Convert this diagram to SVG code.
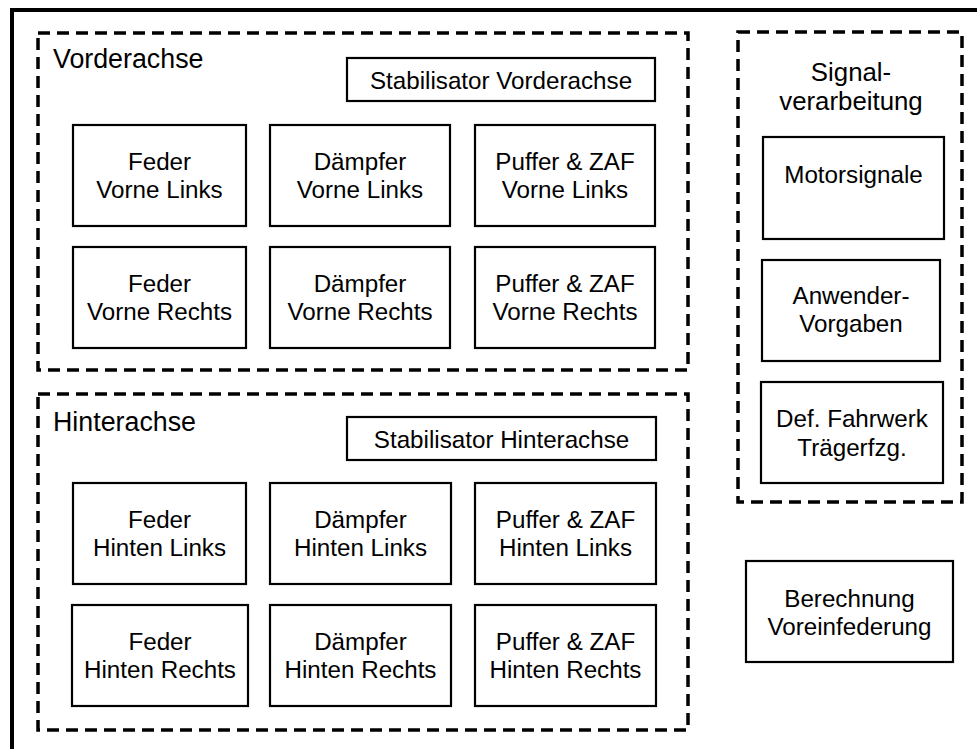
<svg xmlns="http://www.w3.org/2000/svg" width="977" height="749" viewBox="0 0 977 749">
<style>
.bg{fill:#fff}
.outer{fill:none;stroke:#000;stroke-width:4}
.grp{fill:none;stroke:#000;stroke-width:3.5;stroke-dasharray:12 7}
.box{fill:#fff;stroke:#000;stroke-width:2.2}
text{font-family:"Liberation Sans",Arial,sans-serif;fill:#000}
.t{font-size:24.2px;text-anchor:middle}
.h{font-size:26.8px}
.hc{font-size:25.8px;text-anchor:middle}
</style>
<rect class="bg" x="0" y="0" width="977" height="749"/>
<rect class="outer" x="12" y="10" width="1000" height="800"/>
<g id="vorderachse">
<rect class="grp" x="38" y="33" width="650" height="337"/>
<text class="h" x="53" y="68">Vorderachse</text>
</g>
<g id="hinterachse">
<rect class="grp" x="38" y="394" width="650" height="336"/>
<text class="h" x="53" y="431">Hinterachse</text>
</g>
<g id="signalverarbeitung">
<rect class="grp" x="738" y="32" width="224" height="470"/>
<text class="hc" x="851" y="81">Signal-</text>
<text class="hc" x="851" y="110">verarbeitung</text>
</g>
<g id="stab_vorne"><rect class="box" x="347" y="58" width="308" height="43"/><text class="t" x="501" y="88.5">Stabilisator Vorderachse</text></g>
<g id="feder_vl"><rect class="box" x="73" y="125" width="173" height="101"/><text class="t" x="159.5" y="170">Feder</text><text class="t" x="159.5" y="198">Vorne Links</text></g>
<g id="daempfer_vl"><rect class="box" x="270" y="125" width="180" height="101"/><text class="t" x="360" y="170">Dämpfer</text><text class="t" x="360" y="198">Vorne Links</text></g>
<g id="puffer_vl"><rect class="box" x="475" y="125" width="180" height="101"/><text class="t" x="565" y="170">Puffer &amp; ZAF</text><text class="t" x="565" y="198">Vorne Links</text></g>
<g id="feder_vr"><rect class="box" x="73" y="247" width="173" height="101"/><text class="t" x="159.5" y="292">Feder</text><text class="t" x="159.5" y="320">Vorne Rechts</text></g>
<g id="daempfer_vr"><rect class="box" x="270" y="247" width="180" height="101"/><text class="t" x="360" y="292">Dämpfer</text><text class="t" x="360" y="320">Vorne Rechts</text></g>
<g id="puffer_vr"><rect class="box" x="475" y="247" width="180" height="101"/><text class="t" x="565" y="292">Puffer &amp; ZAF</text><text class="t" x="565" y="320">Vorne Rechts</text></g>
<g id="stab_hinten"><rect class="box" x="347" y="417" width="309" height="43"/><text class="t" x="501.5" y="447.5">Stabilisator Hinterachse</text></g>
<g id="feder_hl"><rect class="box" x="73" y="483" width="173" height="101"/><text class="t" x="159.5" y="528">Feder</text><text class="t" x="159.5" y="556">Hinten Links</text></g>
<g id="daempfer_hl"><rect class="box" x="270" y="483" width="181" height="101"/><text class="t" x="360.5" y="528">Dämpfer</text><text class="t" x="360.5" y="556">Hinten Links</text></g>
<g id="puffer_hl"><rect class="box" x="475" y="483" width="181" height="101"/><text class="t" x="565.5" y="528">Puffer &amp; ZAF</text><text class="t" x="565.5" y="556">Hinten Links</text></g>
<g id="feder_hr"><rect class="box" x="72" y="605" width="176" height="101"/><text class="t" x="160" y="650">Feder</text><text class="t" x="160" y="678">Hinten Rechts</text></g>
<g id="daempfer_hr"><rect class="box" x="270" y="605" width="181" height="101"/><text class="t" x="360.5" y="650">Dämpfer</text><text class="t" x="360.5" y="678">Hinten Rechts</text></g>
<g id="puffer_hr"><rect class="box" x="475" y="605" width="181" height="101"/><text class="t" x="565.5" y="650">Puffer &amp; ZAF</text><text class="t" x="565.5" y="678">Hinten Rechts</text></g>
<g id="motorsignale"><rect class="box" x="763" y="137" width="181" height="102"/><text class="t" x="853.5" y="183">Motorsignale</text></g>
<g id="anwender"><rect class="box" x="762" y="260" width="178" height="101"/><text class="t" x="851" y="304">Anwender-</text><text class="t" x="851" y="332">Vorgaben</text></g>
<g id="def_fahrwerk"><rect class="box" x="761" y="382" width="182" height="101"/><text class="t" x="852" y="427">Def. Fahrwerk</text><text class="t" x="852" y="455.5">Trägerfzg.</text></g>
<g id="berechnung"><rect class="box" x="746" y="561" width="207" height="101"/><text class="t" x="849.5" y="607">Berechnung</text><text class="t" x="849.5" y="635">Voreinfederung</text></g>
<g id="connectors"></g>
</svg>
